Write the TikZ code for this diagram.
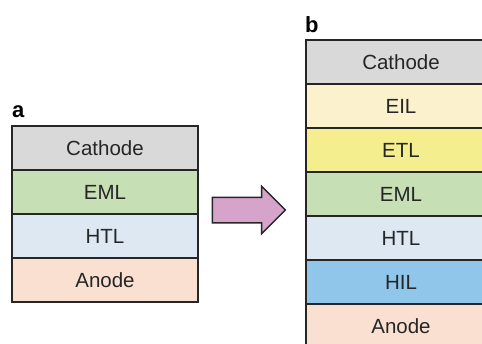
\documentclass[tikz,border=0pt]{standalone}
\usepackage{fontspec}
\setmainfont{Liberation Sans}
\usetikzlibrary{positioning,shapes.arrows}

\definecolor{cathodegray}{HTML}{D9D9D9}
\definecolor{eilcream}{HTML}{FCF1CD}
\definecolor{etlyellow}{HTML}{F5EE8E}
\definecolor{emlgreen}{HTML}{C6DFB4}
\definecolor{htlblue}{HTML}{DDE8F3}
\definecolor{hilblue}{HTML}{8FC6EA}
\definecolor{anodepeach}{HTML}{F9E0D1}
\definecolor{arrowpink}{HTML}{D6A4CB}

\begin{document}
\begin{tikzpicture}
[x=1pt,y=-1pt,
layer/.style={draw=black!85,line width=1.5pt,outer sep=0pt,minimum height=44pt,
  font=\fontsize{20.5}{24}\selectfont,text=black!85},
leftlayer/.style={layer,minimum width=186pt},
rightlayer/.style={layer,minimum width=190pt},
panel/.style={font=\fontsize{22}{26}\selectfont\bfseries,anchor=base west,inner sep=0pt}]
%%
\useasboundingbox (0,0) rectangle (482,343);
\clip (0,0) rectangle (482,343);
%% panel a
\node (la) [panel] at (12,117) {a};
\node (a1) [leftlayer,fill=cathodegray,anchor=north west] at (12,126) {Cathode};
\node (a2) [leftlayer,fill=emlgreen,below=0pt of a1] {EML};
\node (a3) [leftlayer,fill=htlblue,below=0pt of a2] {HTL};
\node (a4) [leftlayer,fill=anodepeach,below=0pt of a3] {Anode};
%% panel b
\node (lb) [panel] at (305,32) {b};
\node (b1) [rightlayer,fill=cathodegray,anchor=north west] at (306,40) {Cathode};
\node (b2) [rightlayer,fill=eilcream,below=0pt of b1] {EIL};
\node (b3) [rightlayer,fill=etlyellow,below=0pt of b2] {ETL};
\node (b4) [rightlayer,fill=emlgreen,below=0pt of b3] {EML};
\node (b5) [rightlayer,fill=htlblue,below=0pt of b4] {HTL};
\node (b6) [rightlayer,fill=hilblue,below=0pt of b5] {HIL};
\node (b7) [rightlayer,fill=anodepeach,below=0pt of b6] {Anode};
%% arrow
\node (arrow) [single arrow,draw=black!85,line width=1.5pt,fill=arrowpink,
  minimum height=73pt,single arrow head extend=11pt,
  inner sep=0pt] at (242.5,210) {\rule{0pt}{24pt}};
%%
\end{tikzpicture}
\end{document}
